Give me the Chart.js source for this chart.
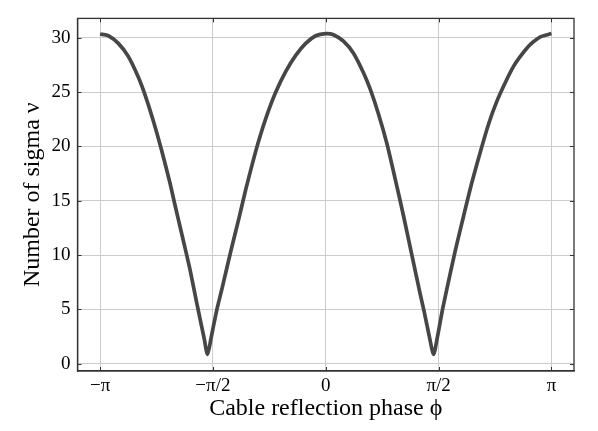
<!DOCTYPE html>
<html>
<head>
<meta charset="utf-8">
<script src="https://cdn.jsdelivr.net/npm/chart.js@4/dist/chart.umd.min.js"></script>
<style>
    body { margin: 0; background: #fff; }
    #wrap { width: 598px; height: 431px; }
</style>
</head>
<body>
<div id="wrap"><canvas id="sigmaChart" width="598" height="431"></canvas></div>
<script>
// Values
const phaseValues = [
    -3.142, -3.026, -2.887, -2.749, -2.610, -2.518, -2.402, -2.287, -2.171, -2.102,
    -2.010, -1.894, -1.790, -1.692, -1.646, -1.595, -1.515, -1.441, -1.324, -1.208,
    -1.115, -1.022, -0.930, -0.813, -0.697, -0.558, -0.418, -0.279, -0.139, 0.000,
    0.107, 0.246, 0.386, 0.525, 0.618, 0.734, 0.850, 0.967, 1.083, 1.199,
    1.315, 1.373, 1.445, 1.501, 1.553, 1.626, 1.687, 1.803, 1.919, 2.035,
    2.152, 2.268, 2.384, 2.500, 2.616, 2.733, 2.849, 2.988, 3.142
];
const sigmaValues = [
    30.36, 30.2, 29.5, 28.3, 26.4, 24.8, 22.4, 19.7, 16.7, 14.7,
    12.1, 8.8, 5.4, 2.3, 0.85, 2.4, 5.0, 7.0, 10.3, 13.4,
    16.0, 18.4, 20.6, 23.0, 25.0, 26.9, 28.4, 29.5, 30.2, 30.4,
    30.3, 29.7, 28.6, 26.8, 25.3, 23.0, 20.3, 17.0, 13.6, 10.0,
    6.4, 4.7, 2.4, 0.85, 2.4, 5.0, 6.9, 10.4, 13.6, 16.7,
    19.5, 22.1, 24.2, 25.9, 27.4, 28.5, 29.4, 30.1, 30.4
];
const xTickValues = [-Math.PI, -Math.PI / 2, 0, Math.PI / 2, Math.PI];
const xTickLabels = ['\u2212\u03c0', '\u2212\u03c0/2', '0', '\u03c0/2', '\u03c0'];
const yTickValues = [0, 5, 10, 15, 20, 25, 30];

const serif = '"Liberation Serif", "DejaVu Serif", serif';
const frameColor = '#333333';

// Frame on all four sides plus inward tick marks, matplotlib style
const framePlugin = {
    id: 'frame',
    afterDraw(chart) {
        const ctx = chart.ctx;
        const a = chart.chartArea;
        const xs = chart.scales.x, ys = chart.scales.y;
        ctx.save();
        ctx.strokeStyle = frameColor;
        ctx.lineWidth = 1;
        xTickValues.forEach(function(v) {
            const px = Math.round(xs.getPixelForValue(v)) + 0.5;
            ctx.beginPath();
            ctx.moveTo(px, a.bottom); ctx.lineTo(px, a.bottom - 4);
            ctx.moveTo(px, a.top); ctx.lineTo(px, a.top + 4);
            ctx.stroke();
        });
        yTickValues.forEach(function(v) {
            const py = Math.round(ys.getPixelForValue(v)) + 0.5;
            ctx.beginPath();
            ctx.moveTo(a.left, py); ctx.lineTo(a.left + 4, py);
            ctx.moveTo(a.right, py); ctx.lineTo(a.right - 4, py);
            ctx.stroke();
        });
        ctx.lineWidth = 1.3;
        ctx.strokeRect(a.left, a.top, a.right - a.left, a.bottom - a.top);
        ctx.restore();
    }
};

const points = phaseValues.map(function(p, i) {
    return { x: p, y: sigmaValues[i] };
});

new Chart(document.getElementById('sigmaChart'), {
    type: 'line',
    data: {
        datasets: [{
            data: points,
            borderColor: 'rgb(70, 70, 70)',
            borderWidth: 3.7,
            pointRadius: 0,
            tension: 0.25,
            fill: false
        }]
    },
    options: {
        responsive: false,
        animation: false,
        layout: { padding: { top: 12, right: 24, left: 0, bottom: 0 } },
        plugins: {
            legend: { display: false },
            tooltip: { enabled: false }
        },
        scales: {
            x: {
                type: 'linear',
                min: -1.1 * Math.PI,
                max: 1.1 * Math.PI,
                afterBuildTicks: function(scale) {
                    scale.ticks = xTickValues.map(function(v) { return { value: v }; });
                },
                afterFit: function(scale) { scale.height = 60; },
                ticks: {
                    color: '#000',
                    padding: 4,
                    maxRotation: 0,
                    font: { family: serif, size: 19 },
                    callback: function(value) {
                        const i = xTickValues.findIndex(function(v) { return Math.abs(v - value) < 1e-6; });
                        return i >= 0 ? xTickLabels[i] : '';
                    }
                },
                grid: { color: '#cccccc', lineWidth: 1, drawTicks: false },
                border: { color: frameColor, width: 1.3 },
                title: {
                    display: true,
                    text: 'Cable reflection phase \u03d5',
                    color: '#000',
                    font: { family: serif, size: 24 },
                    padding: { top: 0, bottom: 8 }
                }
            },
            y: {
                type: 'linear',
                min: -0.68,
                max: 31.8,
                afterBuildTicks: function(scale) {
                    scale.ticks = yTickValues.map(function(v) { return { value: v }; });
                },
                afterFit: function(scale) { scale.width = 77.5; },
                ticks: {
                    color: '#000',
                    padding: 7,
                    font: { family: serif, size: 19 }
                },
                grid: { color: '#cccccc', lineWidth: 1, drawTicks: false },
                border: { color: frameColor, width: 1.3 },
                title: {
                    display: true,
                    text: 'Number of sigma \u03bd',
                    color: '#000',
                    font: { family: serif, size: 24 },
                    padding: { top: 18, bottom: 0 }
                }
            }
        }
    },
    plugins: [framePlugin]
});
</script>
</body>
</html>
